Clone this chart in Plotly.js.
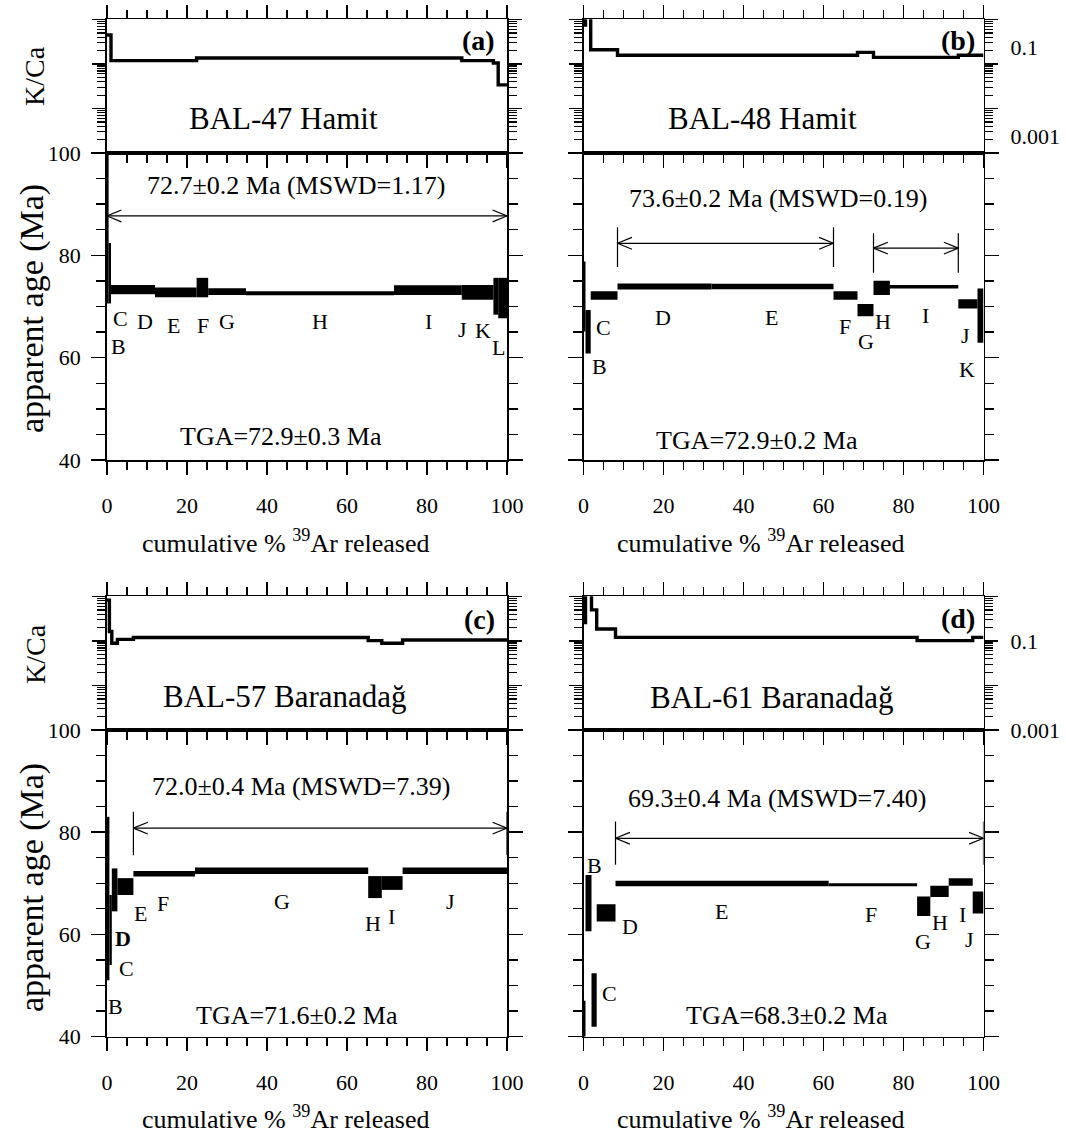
<!DOCTYPE html>
<html>
<head>
<meta charset="utf-8">
<script src="https://cdn.plot.ly/plotly-3.0.1.min.js"></script>
<style>html,body{margin:0;padding:0;background:#fff}#chart{width:1066px;height:1133px}</style>
</head>
<body>
<div id="chart"></div>
<script>
// ================= DATA =================
// (a) BAL-47 Hamit
const a_steps = ['A','B','C','D','E','F','G','H','I','J','K','L'];
const a_cum   = [0, 0.4, 1.0, 5.0, 12.0, 22.4, 25.3, 34.75, 71.75, 88.7, 96.6, 97.8, 100];
const a_age   = [100, 76.5, 73.3, 73.3, 72.75, 73.7, 72.9, 72.6, 73.2, 72.75, 72.0, 71.65];
const a_err   = [29.4, 5.9, 0.9, 0.9, 0.95, 1.9, 0.65, 0.4, 0.95, 1.45, 3.6, 3.95];
const a_kca   = [0.45, 0.45, 0.119, 0.119, 0.119, 0.136, 0.136, 0.136, 0.136, 0.119, 0.105, 0.034];
const a_plateauSteps = [['A','L']];
const a_plateauText = '72.7±0.2 Ma (MSWD=1.17)';
const a_tgaText = 'TGA=72.9±0.3 Ma';

// (b) BAL-48 Hamit
const b_steps = ['A','B','C','D','E','F','G','H','I','J','K'];
const b_cum   = [0, 0.5, 1.8, 8.5, 32.0, 62.5, 68.5, 72.5, 76.6, 93.7, 98.5, 100];
const b_age   = [71.95, 65.05, 72.15, 73.9, 73.9, 72.15, 69.3, 73.65, 73.85, 70.5, 68.2];
const b_err   = [6.85, 4.25, 0.85, 0.6, 0.55, 0.85, 1.2, 1.4, 0.35, 0.9, 5.3];
const b_kca   = [0.75, 1.3, 0.21, 0.158, 0.158, 0.158, 0.183, 0.141, 0.141, 0.158, 0.158];
const b_plateauSteps = [['D','E'], ['H','I']];
const b_plateauText = '73.6±0.2 Ma (MSWD=0.19)';
const b_tgaText = 'TGA=72.9±0.2 Ma';

// (c) BAL-57 Baranadağ
const c_steps = ['B','C','D','E','F','G','H','I','J'];
const c_cum   = [0, 0.6, 1.2, 2.6, 6.6, 22.0, 65.3, 68.7, 73.9, 100];
const c_age   = [67.0, 60.85, 68.7, 69.35, 71.85, 72.45, 69.25, 70.05, 72.45];
const c_err   = [16.0, 6.85, 4.2, 1.65, 0.55, 0.65, 2.15, 1.35, 0.65];
const c_kca   = [0.83, 0.163, 0.089, 0.109, 0.12, 0.12, 0.102, 0.089, 0.105];
const c_plateauSteps = [['F','J']];
const c_plateauText = '72.0±0.4 Ma (MSWD=7.39)';
const c_tgaText = 'TGA=71.6±0.2 Ma';

// (d) BAL-61 Baranadağ
const d_steps = ['A','B','C','D','E','F','G','H','I','J'];
const d_cum   = [0, 0.5, 2.0, 3.3, 8.0, 61.3, 83.4, 86.7, 91.3, 97.3, 100];
const d_age   = [42.0, 66.1, 47.15, 64.2, 69.95, 69.7, 65.5, 68.4, 70.25, 66.25];
const d_err   = [5.0, 5.5, 5.25, 1.7, 0.55, 0.3, 1.9, 1.1, 0.75, 2.15];
const d_kca   = [0.26, 1.5, 0.5, 0.186, 0.121, 0.121, 0.102, 0.102, 0.102, 0.121];
const d_plateauSteps = [['E','J']];
const d_plateauText = '69.3±0.4 Ma (MSWD=7.40)';
const d_tgaText = 'TGA=68.3±0.2 Ma';

const sampleNames = ['BAL-47 Hamit', 'BAL-48 Hamit', 'BAL-57 Baranadağ', 'BAL-61 Baranadağ'];
const panelTags = ['(a)', '(b)', '(c)', '(d)'];
const xTitle = 'cumulative % <sup>39</sup>Ar released';
const ageTitle = 'apparent age (Ma)';
const kcaTitle = 'K/Ca';
const kcaDecades = [0.001, 0.01, 0.1, 1];
const kcaLabelled = [0.001, 0.1];

// ================= PLACEMENT (label positions, in axis units) =================
const FONT = "'Liberation Serif', 'DejaVu Serif', 'Times New Roman', serif";
const W = 1066, H = 1133;
const px = v => v / W, py = v => 1 - v / H;
const colDom = [[px(107), px(507)], [px(583.5), px(983.5)]];
const rowDom = [ {kca:[py(153), py(19.3)], age:[py(460), py(153)]},
                 {kca:[py(730), py(596.3)], age:[py(1036.5), py(730)]} ];

const panels = [
  {steps:a_steps, cum:a_cum, age:a_age, err:a_err, kca:a_kca, plat:a_plateauSteps, ptxt:a_plateauText, tga:a_tgaText,
   col:0, row:0,
   lbl:{B:[2.8,62.1],C:[3.4,67.7],D:[9.5,67.0],E:[16.6,66.2],F:[24.1,66.2],G:[29.9,67.0],H:[53.25,67.0],I:[80.3,67.0],J:[88.9,65.6],K:[94.1,65.4],L:[97.8,62.0]},
   marks:[{y:87.7, lo:null, hi:null}], ptxtPos:[47.2,93.7], tgaPos:[43.45,44.5], namePos:[0.441,0.26], tagPos:[0.976,0.845]},
  {steps:b_steps, cum:b_cum, age:b_age, err:b_err, kca:b_kca, plat:b_plateauSteps, ptxt:b_plateauText, tga:b_tgaText,
   col:1, row:0, labelShift:-17,
   lbl:{B:[4.1,58.2],C:[4.9,65.8],D:[19.9,67.9],E:[47.1,67.9],F:[65.4,66.0],G:[70.6,63.2],H:[74.9,67.0],I:[85.4,68.3],J:[95.4,64.4],K:[95.9,57.6]},
   marks:[{y:82.35, lo:77.7, hi:85.5},{y:81.4, lo:76.6, hi:84.3}], ptxtPos:[48.6,91.2], tgaPos:[43.4,43.9], namePos:[0.4475,0.26], tagPos:[0.984,0.845]},
  {steps:c_steps, cum:c_cum, age:c_age, err:c_err, kca:c_kca, plat:c_plateauSteps, ptxt:c_plateauText, tga:c_tgaText,
   col:0, row:1,
   lbl:{B:[2.0,45.9],C:[4.9,53.4],D:[4.1,59.25],E:[8.25,64.1],F:[14.1,66.1],G:[43.7,66.4],H:[66.6,62.2],I:[71.2,63.5],J:[85.75,66.4]},
   bold:['D'],
   marks:[{y:80.8, lo:75.5, hi:84.0}], ptxtPos:[48.45,88.9], tgaPos:[47.4,44.2], namePos:[0.445,0.25], tagPos:[0.976,0.824]},
  {steps:d_steps, cum:d_cum, age:d_age, err:d_err, kca:d_kca, plat:d_plateauSteps, ptxt:d_plateauText, tga:d_tgaText,
   col:1, row:1, labelShift:0,
   lbl:{B:[2.75,73.4],C:[6.5,48.5],D:[11.5,61.5],E:[34.4,64.5],F:[71.9,63.8],G:[84.8,58.6],H:[89.0,62.3],I:[94.7,63.8],J:[96.5,58.9]},
   marks:[{y:78.8, lo:73.6, hi:82.1}], ptxtPos:[48.4,86.6], tgaPos:[50.9,44.2], namePos:[0.471,0.242], tagPos:[0.983,0.833]}
];

// ================= BUILD =================
const traces = [];
const annotations = [];
const layout = {
  width: W, height: H, margin:{l:0,r:0,t:0,b:0},
  paper_bgcolor:'#fff', plot_bgcolor:'#fff', showlegend:false, barmode:'overlay',
  font:{family:FONT, color:'#000', size:22}
};

const logMinor = [];
for (let e = -3; e < 0; e++) for (let m = 2; m <= 9; m++) logMinor.push(m * Math.pow(10, e));

const lineCommon = {showgrid:false, zeroline:false, showline:true, linecolor:'#000', linewidth:1.8,
  ticks:'outside', tickcolor:'#000', tickwidth:1.4, fixedrange:true,
  tickfont:{family:FONT, size:22, color:'#000'}};

let extraAxis = 9;
panels.forEach((p, k) => {
  const nK = 2*k + 1, nA = 2*k + 2;
  const xK = 'x' + (nK === 1 ? '' : nK), yK = 'y' + (nK === 1 ? '' : nK);
  const xA = 'x' + nA, yA = 'y' + nA;
  const xKkey = 'xaxis' + (nK === 1 ? '' : nK), yKkey = 'yaxis' + (nK === 1 ? '' : nK);
  const xAkey = 'xaxis' + nA, yAkey = 'yaxis' + nA;
  const right = p.col === 1;

  // K/Ca panel axes
  layout[xKkey] = Object.assign({}, lineCommon, {domain: colDom[p.col], anchor: yK, range:[0,100],
    tick0:0, dtick:20, ticklen:13, mirror:'ticks', showticklabels:false,
    minor:{ticks:'outside', dtick:5, tick0:0, ticklen:8, tickcolor:'#000', tickwidth:1.4, showgrid:false}});
  layout[yKkey] = Object.assign({}, lineCommon, {domain: rowDom[p.row].kca, anchor: xK, type:'log',
    range:[-3, 0.005], tickmode:'array', tickvals:kcaDecades, ticklen:13,
    mirror:'ticks', side: right ? 'right' : 'left', showticklabels:false,
    minor:{ticks:'outside', tickmode:'array', tickvals:logMinor, ticklen:8, tickcolor:'#000', tickwidth:1.2, showgrid:false}});
  // labelled K/Ca decades on the right-hand panels (overlay axis carrying only the labels)
  if (right) {
    const n = extraAxis++;
    layout['yaxis' + n] = {domain: rowDom[p.row].kca, anchor: xK, overlaying: yK, side:'right', type:'log',
      range:[-3, 0.005], tickmode:'array', tickvals:kcaLabelled, ticks:'', showline:false, showgrid:false,
      zeroline:false, fixedrange:true, ticklabelstandoff:26, ticklabelshift:p.labelShift,
      tickfont:{family:FONT, size:22, color:'#000'}};
    traces.push({type:'scatter', mode:'lines', x:[], y:[], xaxis:xK, yaxis:'y' + n, hoverinfo:'skip'});
  }
  // Age panel axes
  layout[xAkey] = Object.assign({}, lineCommon, {domain: colDom[p.col], anchor: yA, range:[0,100],
    tick0:0, dtick:20, ticklen:13, mirror:true, showticklabels:true, ticklabelstandoff:12,
    minor:{ticks:'outside', dtick:5, tick0:0, ticklen:8, tickcolor:'#000', tickwidth:1.4, showgrid:false}});
  layout[yAkey] = Object.assign({}, lineCommon, {domain: rowDom[p.row].age, anchor: xA, range:[40,100],
    tick0:0, dtick:20, ticklen:14, mirror:'ticks', showticklabels: !right, ticklabelstandoff:6,
    minor:{ticks:'outside', dtick:5, tick0:0, ticklen:9, tickcolor:'#000', tickwidth:1.4, showgrid:false}});

  // Age spectrum boxes (2-sigma), one bar per heating step
  const bx = [], bw = [], bb = [], bh = [];
  for (let i = 0; i < p.age.length; i++) {
    bx.push((p.cum[i] + p.cum[i+1]) / 2);
    bw.push(p.cum[i+1] - p.cum[i]);
    bb.push(p.age[i] - p.err[i]);
    bh.push(2 * p.err[i]);
  }
  traces.push({type:'bar', x:bx, y:bh, base:bb, width:bw, xaxis:xA, yaxis:yA,
    marker:{color:'#000', line:{width:0}}, hoverinfo:'skip', cliponaxis:true});

  // K/Ca staircase
  traces.push({type:'scatter', mode:'lines', x:p.cum, y:p.kca.concat([p.kca[p.kca.length-1]]),
    xaxis:xK, yaxis:yK, line:{shape:'hv', color:'#000', width:3.4}, hoverinfo:'skip'});

  // Plateau arrows
  const X = [], Y = [];
  const dx = 3.6, dy = 1.15;
  p.plat.forEach((r, j) => {
    const x0 = p.cum[p.steps.indexOf(r[0])];
    const x1 = p.cum[p.steps.indexOf(r[1]) + 1];
    const m = p.marks[j];
    X.push(x0, x1, null); Y.push(m.y, m.y, null);
    X.push(x0 + dx, x0, x0 + dx, null); Y.push(m.y + dy, m.y, m.y - dy, null);
    X.push(x1 - dx, x1, x1 - dx, null); Y.push(m.y + dy, m.y, m.y - dy, null);
    if (m.lo !== null) { X.push(x0, x0, null, x1, x1, null); Y.push(m.lo, m.hi, null, m.lo, m.hi, null); }
  });
  traces.push({type:'scatter', mode:'lines', x:X, y:Y, xaxis:xA, yaxis:yA,
    line:{color:'#000', width:1.2}, hoverinfo:'skip', connectgaps:false});

  // Step letters
  Object.keys(p.lbl).forEach(s => {
    const bold = p.bold && p.bold.indexOf(s) >= 0;
    annotations.push({xref:xA, yref:yA, x:p.lbl[s][0], y:p.lbl[s][1], text: bold ? '<b>'+s+'</b>' : s,
      showarrow:false, xanchor:'center', yanchor:'middle', font:{family:FONT, size:22, color:'#000'}});
  });
  // Plateau and TGA text
  annotations.push({xref:xA, yref:yA, x:p.ptxtPos[0], y:p.ptxtPos[1], text:p.ptxt, showarrow:false,
    xanchor:'center', yanchor:'middle', font:{family:FONT, size:26, color:'#000'}});
  annotations.push({xref:xA, yref:yA, x:p.tgaPos[0], y:p.tgaPos[1], text:p.tga, showarrow:false,
    xanchor:'center', yanchor:'middle', font:{family:FONT, size:26, color:'#000'}});
  // Sample name and panel tag in K/Ca panel
  annotations.push({xref:xK + ' domain', yref:yK + ' domain', x:p.namePos[0], y:p.namePos[1], text:sampleNames[k],
    showarrow:false, xanchor:'center', yanchor:'middle', font:{family:FONT, size:31, color:'#000'}});
  annotations.push({xref:xK + ' domain', yref:yK + ' domain', x:p.tagPos[0], y:p.tagPos[1], text:'<b>'+panelTags[k]+'</b>',
    showarrow:false, xanchor:'right', yanchor:'middle', font:{family:FONT, size:28, color:'#000'}});
  // X-axis title
  annotations.push({xref:'paper', yref:'paper', x: p.col === 0 ? px(285) : px(760), y: p.row === 0 ? py(541) : py(1117),
    text:xTitle, showarrow:false, xanchor:'center', yanchor:'middle', font:{family:FONT, size:26, color:'#000'}});
  // Y-axis titles on the left column
  if (!right) {
    annotations.push({xref:'paper', yref:'paper', x:px(35), y: p.row === 0 ? py(76) : py(654), text:kcaTitle,
      textangle:-90, showarrow:false, xanchor:'center', yanchor:'middle', font:{family:FONT, size:28, color:'#000'}});
    annotations.push({xref:'paper', yref:'paper', x:px(32), y: p.row === 0 ? py(309) : py(888), text:ageTitle,
      textangle:-90, showarrow:false, xanchor:'center', yanchor:'middle', font:{family:FONT, size:34, color:'#000'}});
  }
});
layout.annotations = annotations;

Plotly.newPlot('chart', traces, layout, {staticPlot:true, displayModeBar:false});
</script>
</body>
</html>
